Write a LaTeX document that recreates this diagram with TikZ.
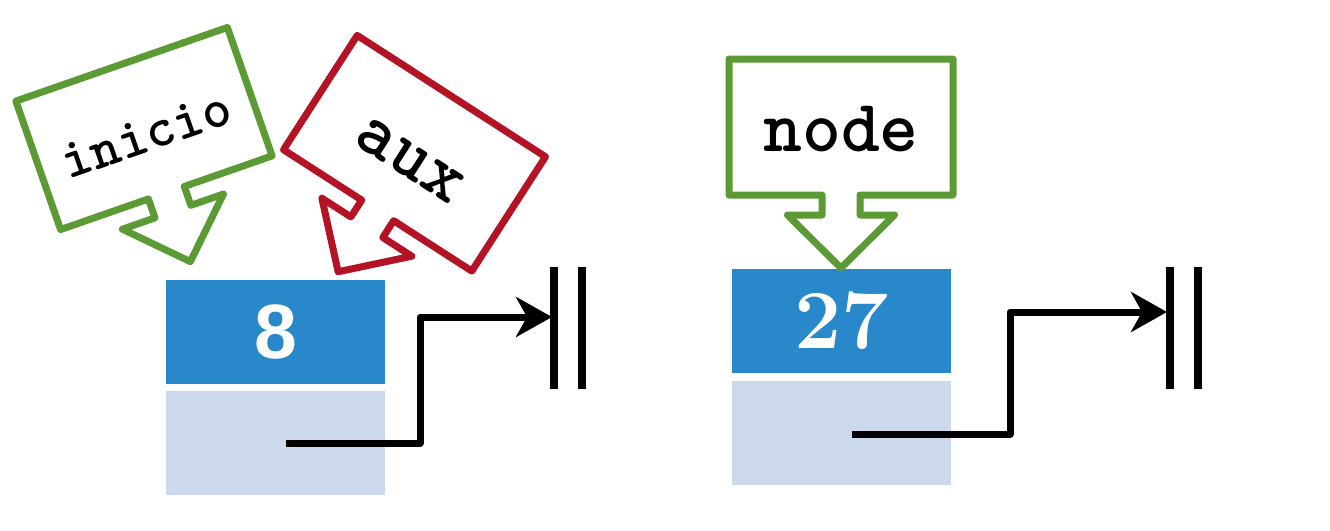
\documentclass[tikz,border=0pt]{standalone}
\usepackage{fontspec}
\usetikzlibrary{arrows.meta}
\newfontfamily\numsans{Liberation Sans}
\definecolor{datblue}{RGB}{40,136,201}
\definecolor{ptrblue}{RGB}{204,217,236}
\definecolor{callgreen}{RGB}{91,154,53}
\definecolor{callred}{RGB}{179,19,36}
\tikzset{
  datbox/.style={fill=datblue, minimum width=219pt, minimum height=104pt, inner sep=0pt, text=white},
  ptrbox/.style={fill=ptrblue, minimum width=219pt, minimum height=104pt, inner sep=0pt},
  ptrline/.style={line width=7pt, line join=round, -{Stealth[length=36pt, width=40pt, inset=11pt]}},
  nullbar/.style={line width=7.5pt},
  callout/.style={line width=7pt, line join=round, fill=white},
  calltext/.style={inner sep=0pt}
}
\newcommand{\calloutpath}{(-112,-68) -- (112,-68) -- (112,68) -- (19,68) -- (19,88) -- (53.5,88) -- (0,141) -- (-53.5,88) -- (-19,88) -- (-19,68) -- (-112,68) -- cycle}
\newcommand{\lbltext}[2]{{\ttfamily\bfseries\fontsize{#1}{#1}\selectfont #2}}
\begin{document}
\begin{tikzpicture}[x=1pt, y=-1pt]
\useasboundingbox (0,0) rectangle (1330,530);
% first list node
\node[datbox] (d1) at (275.5,332) {{\numsans\bfseries\fontsize{77}{77}\selectfont 8}};
\node[ptrbox] (p1) at (275.5,443) {};
% second list node
\node[datbox] (d2) at (841.5,321) {{\bfseries\fontsize{84}{84}\selectfont 27}};
\node[ptrbox] (p2) at (841.5,432.5) {};
% null terminators
\coordinate (t1) at (552,317);
\coordinate (t2) at (1167,312);
\draw[nullbar] (554,267) -- (554,389);
\draw[nullbar] (582,267) -- (582,389);
\draw[nullbar] (1170,267) -- (1170,389);
\draw[nullbar] (1198,267) -- (1198,389);
% pointers
\coordinate (s1) at (286,443);
\coordinate (k1) at (420,317);
\coordinate (s2) at (852,434);
\coordinate (k2) at (1010,312);
\draw[ptrline] (s1) -| (k1) -- (t1);
\draw[ptrline] (s2) -| (k2) -- (t2);
% callouts
\begin{scope}[shift={(144,128.5)}, rotate=19.2]
  \draw[callout, draw=callgreen] \calloutpath;
  \node[calltext, rotate=19.2] (inicio) at (0,7) {\lbltext{56}{inicio}};
\end{scope}
\begin{scope}[shift={(414.5,153.25)}, rotate=-32.8]
  \draw[callout, draw=callred] \calloutpath;
  \node[calltext, rotate=-32.8] (aux) at (0,9) {\lbltext{74}{aux}};
\end{scope}
\begin{scope}[shift={(841,127)}]
  \draw[callout, draw=callgreen] \calloutpath;
  \node[calltext] (nodelbl) at (0,2) {\lbltext{74}{node}};
\end{scope}
\end{tikzpicture}
\end{document}
